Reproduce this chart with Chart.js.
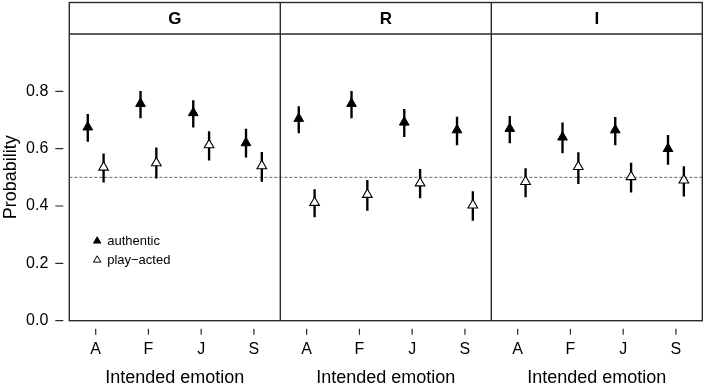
<!DOCTYPE html>
<html>
<head>
<meta charset="utf-8">
<script src="https://cdn.jsdelivr.net/npm/chart.js@4.4.0/dist/chart.umd.min.js"></script>
<style>
  html, body { margin: 0; padding: 0; background: #fff; }
  #wrap { width: 709px; height: 387px; }
</style>
</head>
<body>
<div id="wrap"><canvas id="myChart" width="709" height="387"></canvas></div>
<script>
// data, order: G(A,F,J,S), R(A,F,J,S), I(A,F,J,S)
const panels = ['G', 'R', 'I'];
const categories = ['A', 'F', 'J', 'S'];
const yTicks = [0, 0.2, 0.4, 0.6, 0.8];
const chance = 0.5;

const authenticMean = [0.675, 0.757, 0.725, 0.620,  0.705, 0.757, 0.692, 0.665,  0.670, 0.640, 0.665, 0.600];
const authenticLow  = [0.625, 0.707, 0.675, 0.570,  0.655, 0.707, 0.642, 0.613,  0.620, 0.585, 0.613, 0.545];
const authenticHigh = [0.720, 0.800, 0.768, 0.668,  0.747, 0.800, 0.737, 0.710,  0.713, 0.690, 0.709, 0.647];

const actedMean = [0.535, 0.550, 0.613, 0.540,  0.412, 0.440, 0.480, 0.403,  0.485, 0.537, 0.502, 0.490];
const actedLow  = [0.483, 0.497, 0.560, 0.486,  0.362, 0.385, 0.428, 0.350,  0.432, 0.478, 0.448, 0.434];
const actedHigh = [0.582, 0.603, 0.660, 0.587,  0.457, 0.490, 0.528, 0.450,  0.531, 0.586, 0.550, 0.538];

const FONT = "'Liberation Sans', Arial, Helvetica, sans-serif";
const LINE = '#2b2b2b';
const dodge = 0.15;

// build points / error bars on a shared linear x axis (1..12)
function points(means, shift) {
  return means.map((v, i) => ({ x: i + 1 + shift, y: v }));
}
function bars(lo, hi, shift) {
  return lo.map((v, i) => ({ x: i + 1 + shift, y: [v, hi[i]] }));
}

// panel frames, strips, detached R-style ticks, titles and legend
const facets = {
  id: 'facets',
  afterDraw(chart) {
    const ctx = chart.ctx;
    const a = chart.chartArea;
    const xs = chart.scales.x, ys = chart.scales.y;
    const stripTop = 2.5;
    ctx.save();
    ctx.strokeStyle = LINE;
    ctx.lineWidth = 1.4;
    ctx.strokeRect(a.left, stripTop, a.right - a.left, a.bottom - stripTop);
    ctx.beginPath();
    ctx.moveTo(a.left, a.top); ctx.lineTo(a.right, a.top);
    [4.5, 8.5].forEach(v => {
      const px = xs.getPixelForValue(v);
      ctx.moveTo(px, stripTop); ctx.lineTo(px, a.bottom);
    });
    ctx.stroke();

    // strip labels + x titles
    ctx.fillStyle = '#000';
    ctx.textAlign = 'center';
    ctx.textBaseline = 'middle';
    panels.forEach((p, k) => {
      const cx = xs.getPixelForValue(k * 4 + 2.5);
      ctx.font = 'bold 17px ' + FONT;
      ctx.fillText(p, cx, (stripTop + a.top) / 2 + 1);
      ctx.font = '18px ' + FONT;
      ctx.fillText('Intended emotion', cx, 378.5);
    });

    // ticks
    ctx.lineWidth = 1.2;
    ctx.beginPath();
    yTicks.forEach(v => {
      const py = ys.getPixelForValue(v);
      ctx.moveTo(a.left - 14, py); ctx.lineTo(a.left - 6, py);
    });
    for (let i = 1; i <= 12; i++) {
      const px = xs.getPixelForValue(i);
      ctx.moveTo(px, a.bottom + 8); ctx.lineTo(px, a.bottom + 14);
    }
    ctx.stroke();

    // legend
    const lx = xs.getPixelForValue(1) + 1.5;
    const rows = [['authentic', '#000'], ['play\u2212acted', '#fff']];
    ctx.font = '13px ' + FONT;
    ctx.textAlign = 'left';
    rows.forEach((r, k) => {
      const ly = 241 + k * 19;
      const s = 4.2;
      ctx.beginPath();
      ctx.moveTo(lx, ly - s);
      ctx.lineTo(lx + s * 0.866, ly + s * 0.5);
      ctx.lineTo(lx - s * 0.866, ly + s * 0.5);
      ctx.closePath();
      ctx.fillStyle = r[1];
      ctx.fill();
      ctx.lineWidth = 1;
      ctx.strokeStyle = '#000';
      ctx.stroke();
      ctx.fillStyle = '#000';
      ctx.fillText(r[0], lx + 10, ly);
    });
    ctx.restore();
  }
};

const config = {
  type: 'scatter',
  data: {
    datasets: [
      {
        type: 'line',
        data: [{ x: 0.5, y: chance }, { x: 12.5, y: chance }],
        borderColor: '#666',
        borderWidth: 1,
        borderDash: [3, 2],
        pointRadius: 0,
        order: 5
      },
      {
        type: 'bar',
        data: bars(authenticLow, authenticHigh, -dodge),
        backgroundColor: '#000',
        barThickness: 1.7,
        grouped: false,
        order: 3
      },
      {
        type: 'bar',
        data: bars(actedLow, actedHigh, dodge),
        backgroundColor: '#000',
        barThickness: 1.7,
        grouped: false,
        order: 3
      },
      {
        label: 'authentic',
        data: points(authenticMean, -dodge),
        pointStyle: 'triangle',
        pointRadius: 5.6,
        backgroundColor: '#000',
        borderColor: '#000',
        borderWidth: 1,
        order: 1
      },
      {
        label: 'play-acted',
        data: points(actedMean, dodge),
        pointStyle: 'triangle',
        pointRadius: 5.6,
        backgroundColor: '#fff',
        borderColor: '#000',
        borderWidth: 1.1,
        order: 0
      }
    ]
  },
  options: {
    responsive: false,
    animation: false,
    events: [],
    layout: { padding: { top: 34, right: 4.7, left: 0, bottom: 0 } },
    plugins: {
      legend: { display: false },
      tooltip: { enabled: false }
    },
    scales: {
      x: {
        type: 'linear',
        min: 0.5,
        max: 12.5,
        offset: false,
        grid: { display: false, drawTicks: false, offset: false },
        border: { display: false },
        afterBuildTicks: s => { s.ticks = categories.concat(categories, categories).map((c, i) => ({ value: i + 1 })); },
        afterFit: s => { s.height = 66.3; },
        ticks: {
          autoSkip: false,
          maxRotation: 0,
          padding: 19,
          color: '#000',
          font: { family: FONT, size: 16 },
          callback: v => categories[(Math.round(v) - 1) % 4]
        }
      },
      y: {
        type: 'linear',
        min: 0,
        max: 1,
        grid: { display: false, drawTicks: false },
        border: { display: false },
        afterBuildTicks: s => { s.ticks = yTicks.map(v => ({ value: v })); },
        afterFit: s => { s.width = 69.3; },
        title: {
          display: true,
          text: 'Probability',
          color: '#000',
          padding: 0,
          font: { family: FONT, size: 18 }
        },
        ticks: {
          padding: 21,
          color: '#000',
          font: { family: FONT, size: 16 },
          callback: v => v.toFixed(1)
        }
      }
    }
  },
  plugins: [facets]
};

const myChart = new Chart(document.getElementById('myChart'), config);
</script>
</body>
</html>
